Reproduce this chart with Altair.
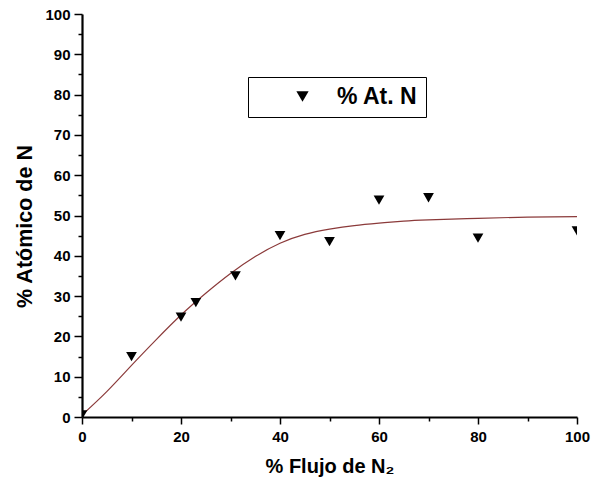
import altair as alt
import pandas as pd

# Measured nitrogen content vs. N2 flow fraction
flow = [0, 10, 20, 23, 31, 40, 50, 60, 70, 80, 100]
at_n = [0.5, 15, 24.8, 28.4, 35, 45, 43.5, 53.8, 54.4, 44.4, 46.2]

# Fitted curve, sampled along the flow axis
fit_x = [0, 5, 10, 15, 20, 25, 30, 35, 40, 45, 50, 55, 60, 65, 70, 80, 90, 100]
fit_y = [0.5, 6.3, 12.8, 19.2, 25.3, 30.7, 35.6, 39.8, 43.1, 45.3, 46.6, 47.5, 48.1, 48.6, 48.9, 49.3, 49.6, 49.7]

# Axis tick positions
x_major_ticks = [0, 20, 40, 60, 80, 100]
x_minor_ticks = [10, 30, 50, 70, 90]
y_major_ticks = [0, 10, 20, 30, 40, 50, 60, 70, 80, 90, 100]
y_minor_ticks = [5, 15, 25, 35, 45, 55, 65, 75, 85, 95]

pts = pd.DataFrame({"flow": flow, "atn": at_n, "serie": ["% At. N"] * len(flow)})
fit = pd.DataFrame({"flow": fit_x, "atn": fit_y})

FONT = "Liberation Sans"
W, H = 495, 403
xs = alt.Scale(domain=[0, 100], nice=False)
ys = alt.Scale(domain=[0, 100], nice=False)

x_main = alt.X("flow:Q", scale=xs,
               axis=alt.Axis(orient="bottom", values=x_major_ticks, title="% Flujo de N\u2082",
                             grid=False, tickSize=7, tickWidth=1.5, domainWidth=2.2,
                             domainColor="black", tickColor="black", labelFlush=False,
                             labelFontSize=15, labelFont=FONT, labelColor="black",
                             labelFontWeight="bold", labelPadding=5,
                             titleFont=FONT, titleFontSize=20, titleFontWeight="bold",
                             titleColor="black", titlePadding=12))
y_main = alt.Y("atn:Q", scale=ys,
               axis=alt.Axis(orient="left", values=y_major_ticks, title="% Atómico de N",
                             grid=False, tickSize=8, tickWidth=1.5, domainWidth=2.2,
                             domainColor="black", tickColor="black", labelFlush=False,
                             labelFontSize=15, labelFont=FONT, labelColor="black",
                             labelFontWeight="bold", labelPadding=4,
                             titleFont=FONT, titleFontSize=21.5, titleFontWeight="bold",
                             titleColor="black", titlePadding=8, titleY=212))

curve = alt.Chart(fit).mark_line(color="#8b3a3a", strokeWidth=1.2, interpolate="natural", clip=True).encode(
    x=x_main, y=y_main)

# Minor ticks on both axes
minor = alt.Chart(fit).mark_line(opacity=0).encode(
    x=alt.X("flow:Q", scale=xs,
            axis=alt.Axis(orient="bottom", values=x_minor_ticks, labels=False, title=None, grid=False,
                          domain=False, tickSize=4, tickWidth=1.5, tickColor="black")),
    y=alt.Y("atn:Q", scale=ys,
            axis=alt.Axis(orient="left", values=y_minor_ticks, labels=False, title=None, grid=False,
                          domain=False, tickSize=4, tickWidth=1.5, tickColor="black")),
)

points = alt.Chart(pts).mark_point(shape="triangle-down", filled=True, size=115, opacity=1, clip=True).encode(
    x=alt.X("flow:Q", scale=xs, axis=None), y=alt.Y("atn:Q", scale=ys, axis=None),
    color=alt.Color("serie:N", scale=alt.Scale(range=["black"]),
                    legend=alt.Legend(title=None, orient="none", legendX=166, legendY=63,
                                      strokeColor="black", padding=8, symbolOffset=35,
                                      symbolSize=150, symbolType="triangle-down",
                                      labelFont=FONT, labelFontSize=23, labelFontWeight="bold",
                                      labelColor="black", labelOffset=23, labelLimit=300)),
)

chart = alt.layer(minor, curve, points).resolve_axis(x="independent", y="independent").properties(
    width=W, height=H,
    padding={"left": 82, "top": 14, "right": 14, "bottom": 70},
    autosize=alt.AutoSizeParams(type="none"),
    background="white",
).configure_view(stroke=None)

chart.save("out.html", embed_options={"renderer": "svg", "actions": False})
